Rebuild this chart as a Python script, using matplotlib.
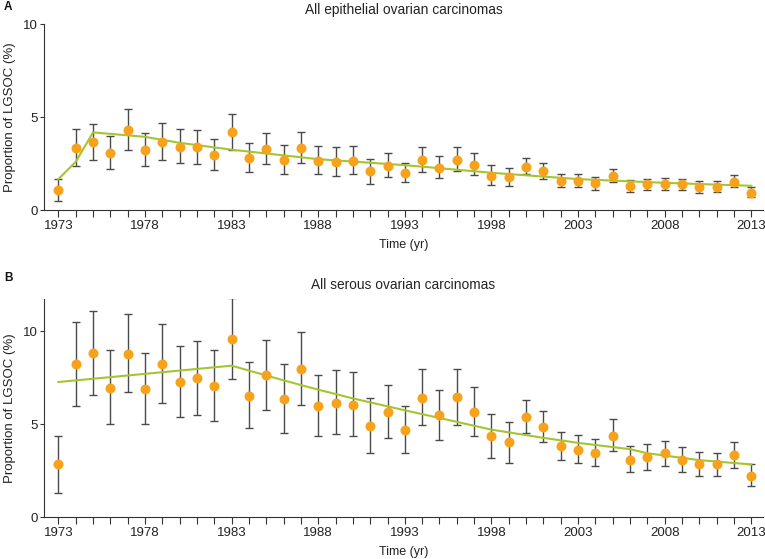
import numpy as np
import matplotlib
matplotlib.use("Agg")
import matplotlib.pyplot as plt

plt.rcParams['font.family'] = ['Liberation Sans', 'DejaVu Sans']

# Years of diagnosis
years = list(range(1973, 2014))

# Panel A: all epithelial ovarian carcinomas
epi_prop = [1.08, 3.35, 3.64, 3.06, 4.30, 3.24, 3.67, 3.40, 3.37, 2.97,
            4.18, 2.78, 3.28, 2.67, 3.33, 2.65, 2.58, 2.63, 2.08, 2.38,
            2.01, 2.72, 2.29, 2.69, 2.44, 1.86, 1.79, 2.33, 2.08, 1.58,
            1.56, 1.45, 1.84, 1.31, 1.38, 1.40, 1.38, 1.25, 1.25, 1.54,
            0.95]
epi_hi = [1.67, 4.34, 4.61, 4.01, 5.41, 4.16, 4.66, 4.34, 4.30, 3.85,
          5.18, 3.60, 4.16, 3.49, 4.19, 3.44, 3.37, 3.44, 2.76, 3.05,
          2.54, 3.42, 2.90, 3.37, 3.06, 2.44, 2.29, 2.80, 2.51, 1.95,
          1.92, 1.79, 2.22, 1.61, 1.67, 1.74, 1.67, 1.58, 1.58, 1.88,
          1.22]
epi_lo = [0.48, 2.38, 2.69, 2.19, 3.24, 2.40, 2.72, 2.51, 2.46, 2.15,
          3.23, 2.03, 2.47, 1.92, 2.51, 1.92, 1.84, 1.92, 1.43, 1.77,
          1.49, 2.04, 1.72, 2.10, 1.90, 1.34, 1.31, 1.92, 1.70, 1.25,
          1.24, 1.11, 1.51, 1.00, 1.06, 1.11, 1.08, 0.95, 0.97, 1.25,
          0.70]
epi_trend_years = [1973, 1974, 1975, 1978, 1980, 1983, 1988, 1993, 1998, 2003, 2008, 2013]
epi_trend = [1.67, 2.60, 4.18, 3.94, 3.62, 3.25, 2.74, 2.42, 2.01, 1.67, 1.47, 1.31]

# Panel B: all serous ovarian carcinomas
ser_prop = [2.83, 8.23, 8.82, 6.96, 8.78, 6.89, 8.23, 7.26, 7.46, 7.05,
            9.55, 6.53, 7.62, 6.37, 7.94, 5.96, 6.12, 6.05, 4.90, 5.65,
            4.67, 6.40, 5.47, 6.44, 5.64, 4.36, 4.03, 5.40, 4.85, 3.81,
            3.63, 3.45, 4.38, 3.09, 3.22, 3.42, 3.06, 2.86, 2.83, 3.33,
            2.22]
ser_hi = [4.38, 10.50, 11.09, 8.98, 10.93, 8.82, 10.39, 9.20, 9.46, 9.00,
          11.77, 8.35, 9.52, 8.23, 9.93, 7.66, 7.91, 7.80, 6.42, 7.10,
          5.97, 7.96, 6.85, 7.96, 6.98, 5.56, 5.13, 6.31, 5.71, 4.58,
          4.42, 4.22, 5.26, 3.83, 3.95, 4.11, 3.76, 3.51, 3.47, 4.06,
          2.83]
ser_lo = [1.32, 5.99, 6.58, 4.99, 6.71, 5.01, 6.15, 5.37, 5.51, 5.17,
          7.42, 4.78, 5.78, 4.54, 6.01, 4.35, 4.44, 4.38, 3.47, 4.24,
          3.43, 4.94, 4.13, 4.97, 4.35, 3.18, 2.93, 4.53, 4.03, 3.09,
          2.90, 2.72, 3.56, 2.43, 2.52, 2.74, 2.42, 2.20, 2.20, 2.65,
          1.66]
ser_trend_years = [1973, 1983, 1986, 1988, 1990, 1993, 1996, 1998, 2001, 2003, 2006, 2007, 2010, 2013]
ser_trend = [7.26, 8.14, 7.35, 6.85, 6.38, 5.74, 5.12, 4.70, 4.26, 3.99, 3.65, 3.43, 3.06, 2.83]

panels = [
    ("A", "All epithelial ovarian carcinomas", epi_prop, epi_lo, epi_hi,
     epi_trend_years, epi_trend, 10.0, [0, 5, 10]),
    ("B", "All serous ovarian carcinomas", ser_prop, ser_lo, ser_hi,
     ser_trend_years, ser_trend, 11.75, [0, 5, 10]),
]

fig = plt.figure(figsize=(7.65, 5.59), dpi=100)
# axes boxes in figure fractions [left, bottom, width, height]
boxes = [[0.058, 0.624, 0.939, 0.333], [0.058, 0.075, 0.939, 0.391]]

dark = "#333333"
for (letter, title, prop, lo, hi, ty, tv, ymax, yt), box in zip(panels, boxes):
    ax = fig.add_axes(box)
    prop = np.array(prop)
    yerr = [prop - np.array(lo), np.array(hi) - prop]
    ax.errorbar(years, prop, yerr=yerr, fmt="none", ecolor="#4a4a4a",
                elinewidth=1.0, capsize=3.2, capthick=1.0, zorder=2)
    ax.plot(ty, tv, color="#a5c530", lw=1.5, zorder=3)
    ax.plot(years, prop, "o", color="#f7a21b", markersize=7.2,
            markeredgewidth=0, zorder=4)

    ax.set_xlim(1972.19, 2013.66)
    ax.set_ylim(0, ymax)
    ax.set_xticks(years)
    ax.set_xticklabels([str(y) if (y - 1973) % 5 == 0 else "" for y in years])
    ax.set_yticks(yt)
    ax.tick_params(axis="x", length=5, width=0.8, color=dark, labelsize=9.5,
                   labelcolor="#222222", pad=2)
    ax.tick_params(axis="y", length=3, width=0.8, color=dark, labelsize=9.5,
                   labelcolor="#222222", pad=2)
    for s in ["top", "right"]:
        ax.spines[s].set_visible(False)
    for s in ["left", "bottom"]:
        ax.spines[s].set_color(dark)
        ax.spines[s].set_linewidth(0.8)

    ax.set_xlabel("Time (yr)", fontsize=9, color="#222222", labelpad=5)
    ax.set_ylabel("Proportion of LGSOC (%)", fontsize=9.5, color="#222222", labelpad=5)
    ax.set_title(title, fontsize=9.9, color="#222222", pad=7)
    top = box[1] + box[3]
    fig.text(0.005, top + (0.030 if letter == "A" else 0.037), letter,
             fontsize=8.5, fontweight="bold", color="#111111", va="center")

fig.savefig("out.png", dpi=100)
